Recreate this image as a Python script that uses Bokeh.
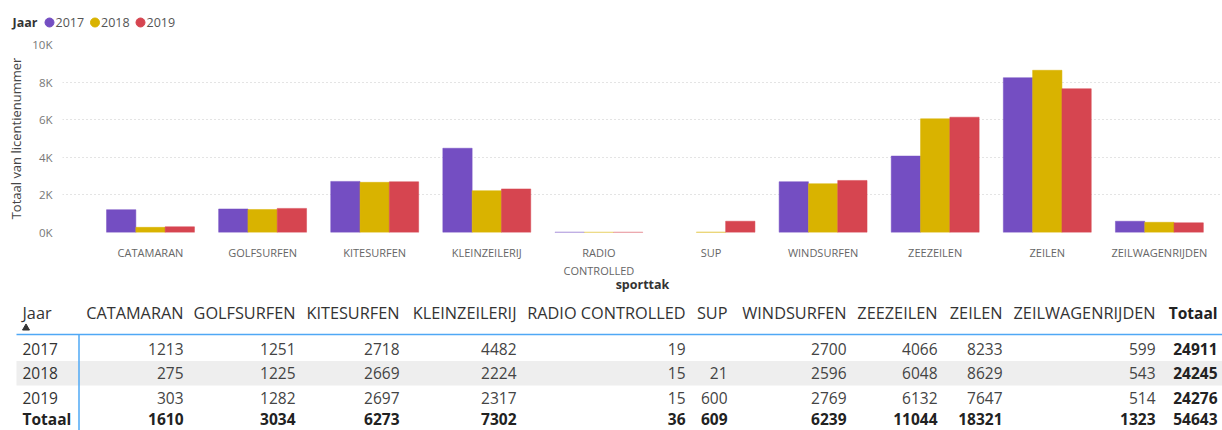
import numpy as np
from bokeh.plotting import figure
from bokeh.models import Range1d, FixedTicker, ColumnDataSource
from bokeh.layouts import column
from bokeh.embed import file_html
from bokeh.resources import INLINE
from bokeh.core.properties import value
from bokeh.transform import dodge

# ---------------- data ----------------
sports = ["CATAMARAN", "GOLFSURFEN", "KITESURFEN", "KLEINZEILERIJ", "RADIO CONTROLLED",
          "SUP", "WINDSURFEN", "ZEEZEILEN", "ZEILEN", "ZEILWAGENRIJDEN"]
years = ["2017", "2018", "2019"]
v2017 = [1213, 1251, 2718, 4482, 19, None, 2700, 4066, 8233, 599]
v2018 = [275, 1225, 2669, 2224, 15, 21, 2596, 6048, 8629, 543]
v2019 = [303, 1282, 2697, 2317, 15, 600, 2769, 6132, 7647, 514]
col_totals = [1610, 3034, 6273, 7302, 36, 609, 6239, 11044, 18321, 1323]
row_totals = [24911, 24245, 24276]
grand_total = 54643
colors = ["#744EC2", "#D9B300", "#D64550"]
y_ticks = [0, 2000, 4000, 6000, 8000, 10000]
y_tick_labels = ["0K", "2K", "4K", "6K", "8K", "10K"]

FONT = "Open Sans"
W = 1222
series = [v2017, v2018, v2019]

# ---------------- legend strip ----------------
leg = figure(width=W, height=36, x_range=Range1d(0, W), y_range=Range1d(36, 0),
             x_axis_type=None, y_axis_type=None, min_border=0, frame_align=False,
             output_backend="svg", toolbar_location=None)
leg.outline_line_color = None
leg.text(x=[12], y=[22], text=["Jaar"], text_font=value(FONT), text_font_size="12.5px",
         text_font_style="bold", text_color="#333333", text_baseline="middle", text_align="left")
for k, (yr, c) in enumerate(zip(years, colors)):
    cx = 49 + k * 45.5
    leg.scatter(x=[cx], y=[22], size=9, color=c, marker="circle")
    leg.text(x=[cx + 6], y=[22], text=[yr], text_font=value(FONT), text_font_size="12.5px",
             text_color="#555555", text_baseline="middle", text_align="left")

# ---------------- bar chart ----------------
src = ColumnDataSource(dict(
    x=list(range(len(sports))),
    y2017=np.array(v2017, dtype=float),
    y2018=np.array(v2018, dtype=float),
    y2019=np.array(v2019, dtype=float),
))

bar = figure(width=W, height=262, x_range=Range1d(-0.785, 9.563), y_range=Range1d(0, 10000),
             min_border_left=62, min_border_right=0, min_border_top=8, min_border_bottom=66,
             frame_align=False, output_backend="svg", toolbar_location=None)
bar.outline_line_color = None
bw = 0.2614
for k, (yr, c) in enumerate(zip(years, colors)):
    bar.vbar(x=dodge("x", (k - 1) * bw), top="y" + yr, width=bw, bottom=0, source=src,
             fill_color=c, line_color=c, line_width=0.5)

bar.xgrid.visible = False
bar.ygrid.ticker = FixedTicker(ticks=y_ticks)
bar.ygrid.grid_line_color = "#C8C8C8"
bar.ygrid.grid_line_dash = "1 3"

bar.xaxis.ticker = FixedTicker(ticks=list(range(len(sports))))
bar.xaxis.major_label_overrides = {i: s.replace(" ", "\n") for i, s in enumerate(sports)}
bar.yaxis.ticker = FixedTicker(ticks=y_ticks)
bar.yaxis.major_label_overrides = {t: l for t, l in zip(y_ticks, y_tick_labels)}
for ax in (bar.xaxis, bar.yaxis):
    ax.axis_line_color = None
    ax.major_tick_line_color = None
    ax.minor_tick_line_color = None
    ax.major_tick_out = 0
    ax.major_tick_in = 0
    ax.minor_tick_out = 0
    ax.minor_tick_in = 0
    ax.major_label_text_font = FONT
    ax.axis_label_text_font = FONT
bar.xaxis.major_label_text_font_size = "11px"
bar.xaxis.major_label_text_color = "#666666"
bar.xaxis.major_label_standoff = 12
bar.xaxis.axis_label = "sporttak"
bar.xaxis.axis_label_text_font_style = "bold"
bar.xaxis.axis_label_text_font_size = "12.5px"
bar.xaxis.axis_label_text_color = "#333333"
bar.xaxis.axis_label_standoff = -5
bar.yaxis.major_label_text_font_size = "11.5px"
bar.yaxis.major_label_text_color = "#777777"
bar.yaxis.major_label_standoff = 10
bar.yaxis.axis_label = "Totaal van licentienummer"
bar.yaxis.axis_label_text_font_style = "normal"
bar.yaxis.axis_label_text_font_size = "13px"
bar.yaxis.axis_label_text_color = "#444444"
bar.yaxis.axis_label_standoff = 4

# ---------------- table ----------------
tab = figure(width=W, height=132, x_range=Range1d(0, W), y_range=Range1d(430, 298),
             x_axis_type=None, y_axis_type=None, min_border=0, frame_align=False,
             output_backend="svg", toolbar_location=None)
tab.outline_line_color = None

right_edges = [183, 295, 399, 516, 685, 727, 846, 937, 1002, 1155]
total_right = 1217
year_left = 22
header_y = 312
row_ys = [348, 372.5, 397]
total_y = 418.5
HS = "16.3px"   # header font size
TS = "15.5px"   # body font size

tab.quad(left=[16], right=[W], top=[360.5], bottom=[385], fill_color="#EEEEEE", line_color=None)
tab.segment(x0=[16], y0=[334], x1=[W], y1=[334], line_color="#4FA8F5", line_width=1.5)
tab.segment(x0=[78.5], y0=[334], x1=[78.5], y1=[430], line_color="#4FA8F5", line_width=1.5)
tab.scatter(x=[25.5], y=[327.5], marker="triangle", size=7, color="#333333")

def txt(xs, ys, texts, align, bold=False, color="#333333", size=TS):
    tab.text(x=xs, y=ys, text=texts, text_font=value(FONT), text_font_size=size,
             text_font_style="bold" if bold else "normal", text_color=color,
             text_baseline="middle", text_align=align)

# header
txt([year_left], [header_y], ["Jaar"], "left", size=HS)
txt(right_edges, [header_y] * len(sports), sports, "right", size=HS)
txt([total_right], [header_y], ["Totaal"], "right", bold=True, color="#222222")

# body rows
for yr, vals, ry, rt in zip(years, series, row_ys, row_totals):
    txt([year_left], [ry], [yr], "left")
    xs = [x for x, v in zip(right_edges, vals) if v is not None]
    ts = [str(v) for v in vals if v is not None]
    txt(xs, [ry] * len(xs), ts, "right", color="#444444")
    txt([total_right], [ry], [str(rt)], "right", bold=True, color="#222222")

# totals row
txt([year_left], [total_y], ["Totaal"], "left", bold=True, color="#222222")
txt(right_edges, [total_y] * len(col_totals), [str(v) for v in col_totals], "right", bold=True, color="#222222")
txt([total_right], [total_y], [str(grand_total)], "right", bold=True, color="#222222")

layout = column(leg, bar, tab, spacing=0)
open("out.html", "w").write(file_html(layout, INLINE))
